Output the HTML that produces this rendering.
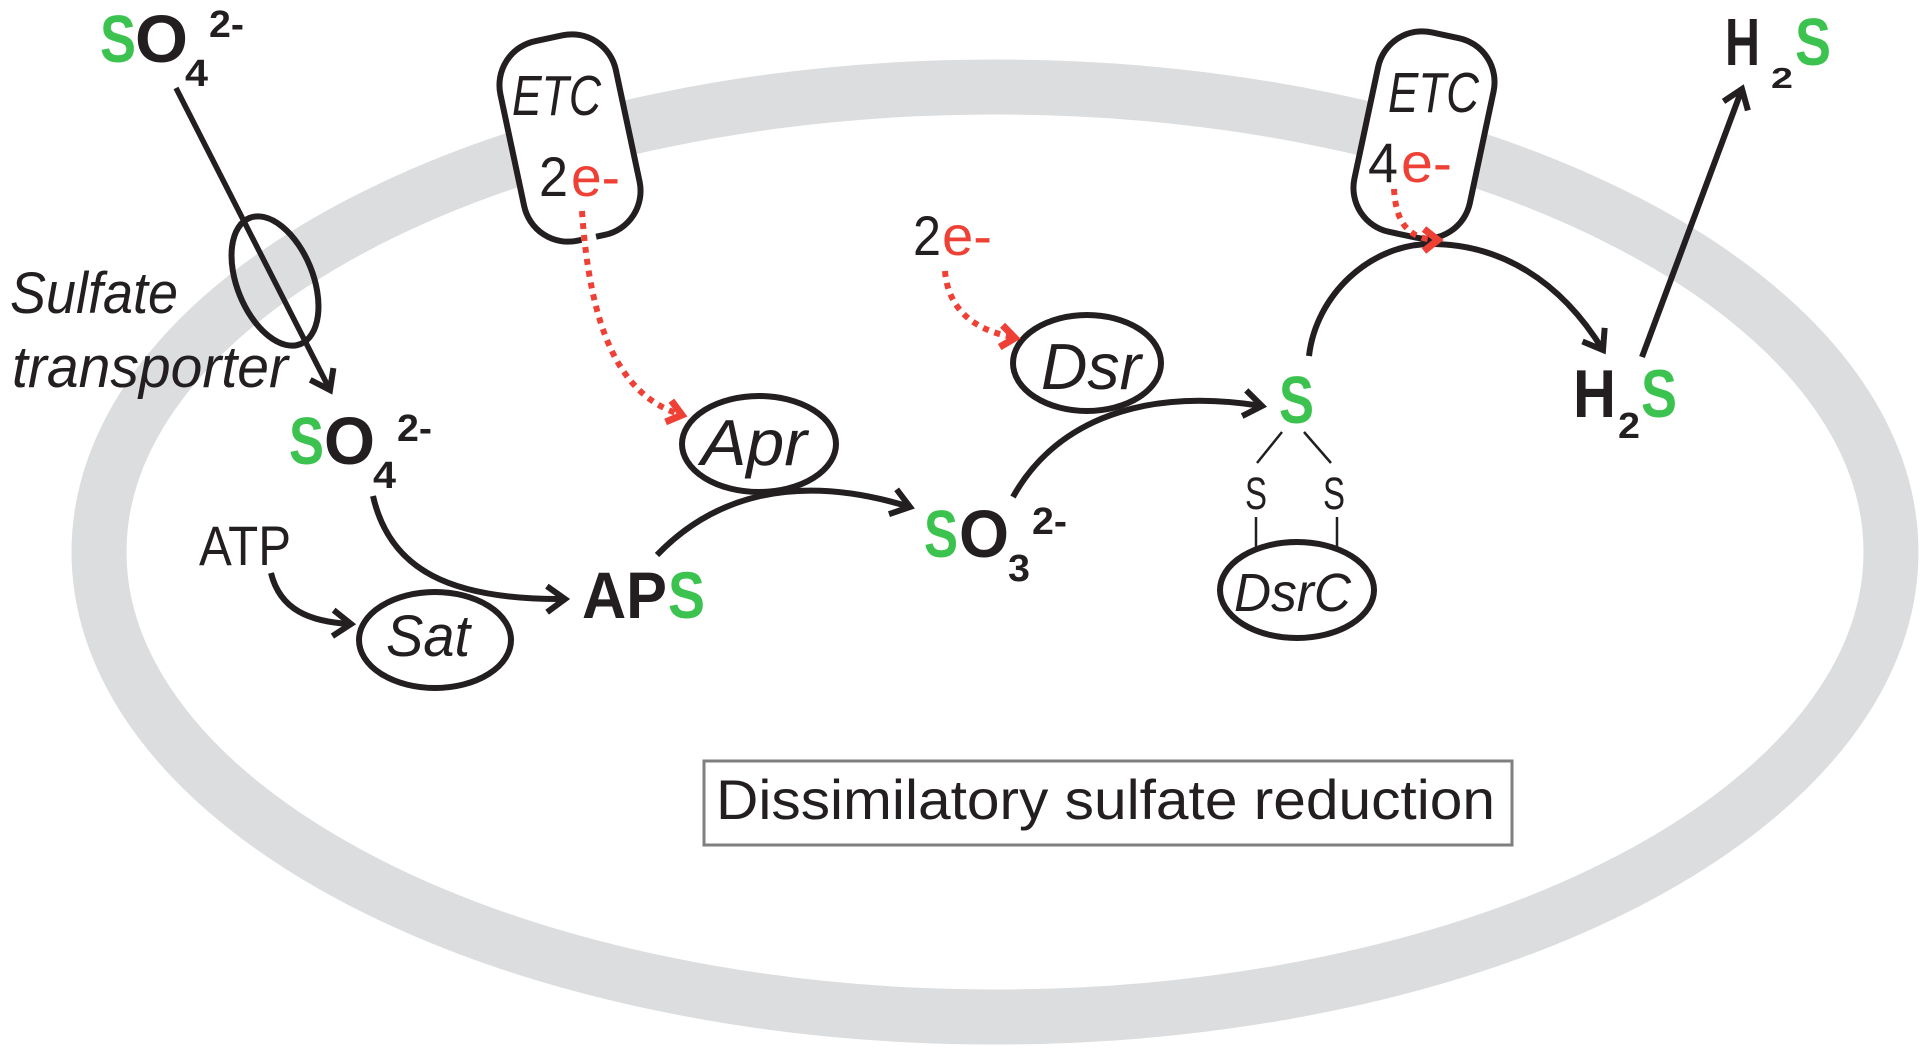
<!DOCTYPE html>
<html><head><meta charset="utf-8"><style>
html,body{margin:0;padding:0;background:#fff;}
svg{display:block;}
text{font-family:"Liberation Sans",sans-serif;fill:#231f20;}
.b{font-weight:bold;}
.i{font-style:italic;}
.g{fill:#3cc34f;}
.r{fill:#ef4036;}
</style></head><body>
<svg width="1920" height="1050" viewBox="0 0 1920 1050" xmlns="http://www.w3.org/2000/svg">
<defs>
<marker id="ab" markerUnits="userSpaceOnUse" orient="auto" markerWidth="60" markerHeight="60" refX="0" refY="0" viewBox="-30 -30 60 60" overflow="visible">
 <path d="M-18,-13 L0,0 L-18,13" fill="none" stroke="#231f20" stroke-width="6"/>
</marker>
<marker id="ar" markerUnits="userSpaceOnUse" orient="auto" markerWidth="60" markerHeight="60" refX="0" refY="0" viewBox="-30 -30 60 60" overflow="visible">
 <path d="M-14,-11 L0,0 L-14,11" fill="none" stroke="#ef4036" stroke-width="7"/>
</marker>
</defs>

<!-- cell membrane ring -->
<ellipse cx="995" cy="552" rx="896" ry="465" fill="none" stroke="#dcdddf" stroke-width="55"/>

<!-- transporter -->
<ellipse cx="275" cy="281" rx="38" ry="68" transform="rotate(-22 275 281)" fill="none" stroke="#231f20" stroke-width="6"/>
<path d="M176,88 L330,390" fill="none" stroke="#231f20" stroke-width="5.5" marker-end="url(#ab)"/>

<!-- ETC boxes -->
<g transform="rotate(-12 570 138)">
 <rect x="511" y="36" width="118" height="204" rx="45" fill="#fff" stroke="#231f20" stroke-width="6"/>
 <rect x="560" y="233" width="15" height="14" fill="#fff"/>
</g>
<g transform="rotate(12 1424 135)">
 <rect x="1365" y="33" width="118" height="204" rx="45" fill="#fff" stroke="#231f20" stroke-width="6"/>
</g>

<!-- enzyme ellipses -->
<ellipse cx="435" cy="640" rx="76" ry="48" fill="none" stroke="#231f20" stroke-width="6"/>
<ellipse cx="759" cy="444" rx="77" ry="48" fill="none" stroke="#231f20" stroke-width="6"/>
<ellipse cx="1087" cy="363" rx="74" ry="48" fill="none" stroke="#231f20" stroke-width="6"/>
<ellipse cx="1297" cy="590" rx="77" ry="48" fill="none" stroke="#231f20" stroke-width="6"/>

<!-- black arrows -->
<g fill="none" stroke="#231f20" stroke-width="6" marker-end="url(#ab)">
 <path d="M271,573 C280,610 310,622 351,624"/>
 <path d="M373,496 C390,570 450,600 565,599"/>
 <path d="M657,555 C710,500 790,470 910,507"/>
 <path d="M1013,497 C1050,430 1130,385 1262,406"/>
 <path d="M1309,356 C1316,295 1370,244 1431,244 C1500,244 1560,280 1603,350"/>
 <path d="M1642,357 L1742,89"/>
</g>

<!-- S bonds -->
<g stroke="#231f20" stroke-width="2.5" fill="none">
 <line x1="1282" y1="432" x2="1257" y2="463"/>
 <line x1="1304" y1="432" x2="1331" y2="463"/>
 <line x1="1256" y1="517" x2="1256" y2="549"/>
 <line x1="1337" y1="517" x2="1337" y2="549"/>
</g>

<!-- red dotted electron flows -->
<g fill="none" stroke="#ef4036" stroke-width="6" stroke-dasharray="6 6">
 <path d="M582,211 C590,330 620,395 679,414"/>
 <path d="M945,271 C948,310 975,330 1012,337"/>
 <path d="M1394,189 C1396,225 1410,238 1435,240"/>
</g>
<g fill="none" stroke="none">
 <path d="M620,395 C640,402 660,409 682,415" marker-end="url(#ar)"/>
 <path d="M975,330 C990,334 1000,336 1015,338" marker-end="url(#ar)"/>
 <path d="M1410,238 C1420,239 1428,240 1438,240" marker-end="url(#ar)"/>
</g>

<!-- labels -->
<text class="b g" x="100" y="62" font-size="67" textLength="36" lengthAdjust="spacingAndGlyphs">S</text>
<text class="b" x="135" y="62" font-size="67" textLength="53" lengthAdjust="spacingAndGlyphs">O</text>
<text class="b" x="185" y="86" font-size="38" textLength="23" lengthAdjust="spacingAndGlyphs">4</text>
<text class="b" x="209" y="37" font-size="38" textLength="35" lengthAdjust="spacingAndGlyphs">2-</text>

<text class="i" x="10" y="313" font-size="58" textLength="168" lengthAdjust="spacingAndGlyphs">Sulfate</text>
<text class="i" x="12" y="387" font-size="58" textLength="276" lengthAdjust="spacingAndGlyphs">transporter</text>

<text class="b g" x="289" y="464" font-size="67" textLength="35" lengthAdjust="spacingAndGlyphs">S</text>
<text class="b" x="324" y="464" font-size="67" textLength="51" lengthAdjust="spacingAndGlyphs">O</text>
<text class="b" x="373" y="488" font-size="38" textLength="23" lengthAdjust="spacingAndGlyphs">4</text>
<text class="b" x="397" y="441" font-size="38" textLength="35" lengthAdjust="spacingAndGlyphs">2-</text>

<text x="199" y="565" font-size="56" textLength="92" lengthAdjust="spacingAndGlyphs">ATP</text>
<text class="i" x="386" y="656" font-size="58" textLength="84" lengthAdjust="spacingAndGlyphs">Sat</text>

<text class="b" x="582" y="618" font-size="66" textLength="85" lengthAdjust="spacingAndGlyphs">AP</text>
<text class="b g" x="668" y="618" font-size="66" textLength="37" lengthAdjust="spacingAndGlyphs">S</text>

<text class="i" x="701" y="465" font-size="65" textLength="106" lengthAdjust="spacingAndGlyphs">Apr</text>
<text class="i" x="1041" y="389" font-size="65" textLength="100" lengthAdjust="spacingAndGlyphs">Dsr</text>
<text class="i" x="1234" y="611" font-size="54" textLength="117" lengthAdjust="spacingAndGlyphs">DsrC</text>

<text class="b g" x="924" y="557" font-size="67" textLength="34" lengthAdjust="spacingAndGlyphs">S</text>
<text class="b" x="959" y="557" font-size="67" textLength="50" lengthAdjust="spacingAndGlyphs">O</text>
<text class="b" x="1008" y="581" font-size="38" textLength="22" lengthAdjust="spacingAndGlyphs">3</text>
<text class="b" x="1032" y="534" font-size="38" textLength="35" lengthAdjust="spacingAndGlyphs">2-</text>

<text class="i" x="512" y="115" font-size="57" textLength="89" lengthAdjust="spacingAndGlyphs">ETC</text>
<text x="539" y="196" font-size="56" textLength="29" lengthAdjust="spacingAndGlyphs">2</text>
<text class="r" x="571" y="196" font-size="56" textLength="49" lengthAdjust="spacingAndGlyphs">e-</text>

<text x="913" y="255" font-size="56" textLength="28" lengthAdjust="spacingAndGlyphs">2</text>
<text class="r" x="942" y="255" font-size="56" textLength="50" lengthAdjust="spacingAndGlyphs">e-</text>

<text class="i" x="1388" y="112" font-size="57" textLength="91" lengthAdjust="spacingAndGlyphs">ETC</text>
<text x="1368" y="182" font-size="56" textLength="30" lengthAdjust="spacingAndGlyphs">4</text>
<text class="r" x="1401" y="182" font-size="56" textLength="51" lengthAdjust="spacingAndGlyphs">e-</text>

<text class="b g" x="1279" y="423" font-size="67" textLength="35" lengthAdjust="spacingAndGlyphs">S</text>
<text x="1245" y="509" font-size="45" textLength="22" lengthAdjust="spacingAndGlyphs">S</text>
<text x="1323" y="509" font-size="45" textLength="22" lengthAdjust="spacingAndGlyphs">S</text>

<text class="b" x="1573" y="417" font-size="68" textLength="43" lengthAdjust="spacingAndGlyphs">H</text>
<text class="b" x="1618" y="438" font-size="36" textLength="22" lengthAdjust="spacingAndGlyphs">2</text>
<text class="b g" x="1641" y="417" font-size="68" textLength="36" lengthAdjust="spacingAndGlyphs">S</text>

<text class="b" x="1725" y="65" font-size="67" textLength="35" lengthAdjust="spacingAndGlyphs">H</text>
<text class="b" x="1771" y="88" font-size="29" textLength="22" lengthAdjust="spacingAndGlyphs">2</text>
<text class="b g" x="1795" y="65" font-size="67" textLength="36" lengthAdjust="spacingAndGlyphs">S</text>

<!-- title box -->
<rect x="704" y="761" width="808" height="84" fill="#fff" stroke="#7f7f7f" stroke-width="3"/>
<text x="716" y="819" font-size="56" textLength="779" lengthAdjust="spacingAndGlyphs">Dissimilatory sulfate reduction</text>
</svg>
</body></html>
